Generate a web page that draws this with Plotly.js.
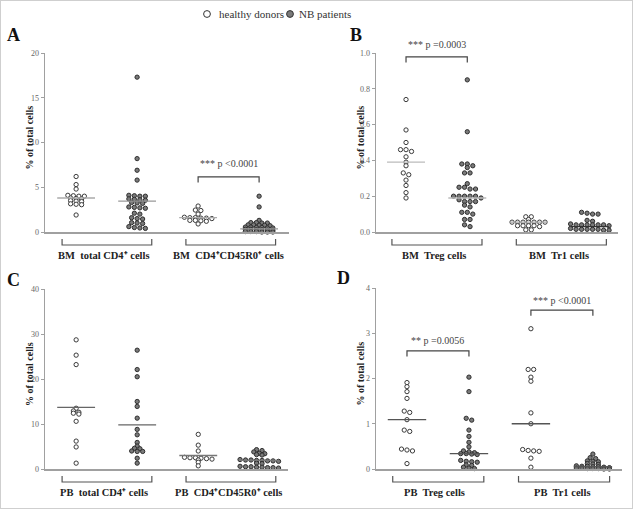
<!DOCTYPE html>
<html><head><meta charset="utf-8">
<script src="https://cdn.plot.ly/plotly-3.0.1.min.js"></script>
<style>html,body{margin:0;padding:0;background:#fff}#chart{width:633px;height:509px}</style>
</head><body><div id="chart"></div>
<script>
// ---------- DATA (% of total cells) ----------
// Panel A – bone marrow
const bmTotalCD4_HD = [6.2, 5.3, 4.8, 4.1, 4.05, 4.0, 4.0, 3.8, 3.75, 3.7, 3.5, 3.45, 3.4, 3.15, 3.1, 3.05, 1.9];
const bmTotalCD4_NB = [17.3, 8.2, 6.9, 5.8, 4.1, 4.05, 4.0, 4.0, 3.7, 3.65, 3.6, 3.55, 3.3, 3.25, 3.2, 2.8, 2.75, 2.7, 2.65, 2.1, 2.0, 1.6, 1.5, 1.45, 1.05, 1.0, 0.95, 0.6, 0.5, 0.45, 0.4];
const bmCD45R0_HD = [2.9, 2.45, 2.4, 2.0, 1.65, 1.6, 1.6, 1.55, 1.55, 1.5, 1.3, 1.3, 1.25, 1.2, 0.9];
const bmCD45R0_NB = [4.0, 2.8, 1.3, 1.05, 1.05, 1.0, 1.0, 0.8, 0.8, 0.75, 0.75, 0.7, 0.55, 0.55, 0.5, 0.5, 0.45, 0.45, 0.3, 0.3, 0.25, 0.25, 0.2, 0.2, 0.05, 0.05, 0.05, 0.0, 0.0, 0.0];
const bmCenterA = [3.8, 3.45, 1.6, 0.35];
// Panel B – bone marrow
const bmTreg_HD = [0.74, 0.57, 0.50, 0.46, 0.46, 0.45, 0.42, 0.39, 0.37, 0.33, 0.32, 0.29, 0.26, 0.22, 0.19];
const bmTreg_NB = [0.85, 0.56, 0.38, 0.38, 0.37, 0.36, 0.33, 0.33, 0.27, 0.25, 0.25, 0.24, 0.24, 0.20, 0.20, 0.20, 0.20, 0.20, 0.19, 0.18, 0.17, 0.17, 0.17, 0.15, 0.14, 0.11, 0.11, 0.10, 0.07, 0.07, 0.04, 0.03];
const bmTr1_HD = [0.085, 0.085, 0.07, 0.055, 0.055, 0.055, 0.055, 0.055, 0.055, 0.055, 0.035, 0.035, 0.035, 0.035, 0.03, 0.012, 0.012];
const bmTr1_NB = [0.11, 0.105, 0.10, 0.10, 0.065, 0.06, 0.045, 0.04, 0.04, 0.04, 0.04, 0.04, 0.04, 0.035, 0.02, 0.015, 0.015, 0.015, 0.015, 0.015, 0.01, 0.01];
const bmCenterB = [0.39, 0.19, 0.055, 0.03];
// Panel C – peripheral blood
const pbTotalCD4_HD = [28.7, 25.3, 23.2, 13.5, 12.9, 12.6, 12.4, 12.2, 10.6, 6.2, 4.9, 1.3];
const pbTotalCD4_NB = [26.4, 22.1, 20.5, 15.0, 13.9, 11.3, 8.8, 7.6, 5.9, 5.1, 4.6, 4.5, 4.0, 3.9, 3.9, 2.4, 1.3];
const pbCD45R0_HD = [7.7, 5.3, 4.0, 2.6, 2.5, 2.5, 2.4, 2.3, 2.2, 2.0, 1.5, 0.7];
const pbCD45R0_NB = [4.3, 4.1, 3.8, 3.5, 3.4, 3.2, 3.1, 2.1, 2.0, 2.0, 1.9, 1.9, 1.8, 1.8, 1.7, 1.3, 1.2, 0.6, 0.5, 0.5, 0.4, 0.4, 0.3, 0.3, 0.2];
const pbCenterC = [13.7, 9.8, 3.0, 1.9];
// Panel D – peripheral blood
const pbTreg_HD = [1.91, 1.82, 1.71, 1.56, 1.28, 1.25, 1.09, 0.86, 0.83, 0.44, 0.42, 0.40, 0.12];
const pbTreg_NB = [2.03, 1.71, 1.12, 1.08, 0.86, 0.72, 0.59, 0.49, 0.40, 0.38, 0.36, 0.34, 0.34, 0.33, 0.32, 0.19, 0.17, 0.16, 0.15, 0.09, 0.08, 0.04, 0.02, 0.01];
const pbTr1_HD = [3.10, 2.20, 2.20, 2.03, 1.94, 1.24, 1.00, 0.43, 0.41, 0.40, 0.39, 0.24, 0.04];
const pbTr1_NB = [0.33, 0.25, 0.23, 0.18, 0.17, 0.16, 0.12, 0.11, 0.10, 0.07, 0.06, 0.06, 0.05, 0.05, 0.04, 0.03, 0.02, 0.02, 0.01, 0.01, 0.01, 0.0, 0.0];
const pbCenterD = [1.09, 0.34, 1.0, 0.05];

const groupLabelsA = ['BM\u00a0 total CD4\u207a cells', 'BM\u00a0 CD4\u207aCD45R0\u207a cells'];
const groupLabelsB = ['BM\u00a0 Treg cells', 'BM\u00a0 Tr1 cells'];
const groupLabelsC = ['PB\u00a0 total CD4\u207a cells', 'PB\u00a0 CD4\u207aCD45R0\u207a cells'];
const groupLabelsD = ['PB\u00a0 Treg cells', 'PB\u00a0 Tr1 cells'];
const legendLabels = ['healthy donors', 'NB patients'];
const yTitle = '% of total cells';

// ---------- LAYOUT CONFIG ----------
const W = 633, H = 509;
const SERIF = 'Liberation Serif, Times New Roman, serif';
const panels = [
  {letter:'A', sfx:'',  px:[45,289], py:[232,53], xr:[0.49,4.49], yr:[0,20], dtick:5, fmt:'',
   series:[bmTotalCD4_HD,bmTotalCD4_NB,bmCD45R0_HD,bmCD45R0_NB], centers:bmCenterA,
   lineColors:['#aaa','#999','#aaa','#999'], groups:groupLabelsA, lpos:[13.5,35],
   sig:[{c0:3,c1:4,y:6.15,ty:7.6,text:'*** p <0.0001'}]},
  {letter:'B', sfx:'2', px:[376,618], py:[232,53], xr:[0.51,4.46], yr:[0,1], dtick:0.2, fmt:'.1f',
   series:[bmTreg_HD,bmTreg_NB,bmTr1_HD,bmTr1_NB], centers:bmCenterB,
   lineColors:['#bbb','#bbb','#aaa','#333'], groups:groupLabelsB, lpos:[356,35],
   sig:[{c0:1,c1:2,y:0.978,ty:1.05,text:'*** p =0.0003'}]},
  {letter:'C', sfx:'3', px:[45,288], py:[469,289], xr:[0.49,4.47], yr:[0,40], dtick:10, fmt:'',
   series:[pbTotalCD4_HD,pbTotalCD4_NB,pbCD45R0_HD,pbCD45R0_NB], centers:pbCenterC,
   lineColors:['#666','#666','#777','#777'], groups:groupLabelsC, lpos:[13,280],
   sig:[]},
  {letter:'D', sfx:'4', px:[376,622], py:[469,288], xr:[0.5,4.47], yr:[0,4], dtick:1, fmt:'',
   series:[pbTreg_HD,pbTreg_NB,pbTr1_HD,pbTr1_NB], centers:pbCenterD,
   lineColors:['#555','#555','#555','#555'], groups:groupLabelsD, lpos:[343,278],
   sig:[{c0:1,c1:2,y:2.61,ty:2.85,text:'** p =0.0056'},{c0:3,c1:4,y:3.51,ty:3.73,text:'*** p <0.0001'}]}
];

// row-binned scatter-dot layout (points within binH px share a centred row)
function rowSwarm(vals, ypu, binH, spacing) {
  const idx = vals.map((v,i)=>i).sort((a,b)=>vals[b]-vals[a]);
  const xs = new Array(vals.length);
  let row = [];
  const flush = () => { row.forEach((i,k) => { xs[i] = (k - (row.length-1)/2) * spacing; }); row = []; };
  for (const i of idx) {
    if (row.length && (vals[row[0]] - vals[i]) * ypu > binH + 1e-9) flush();
    row.push(i);
  }
  flush();
  return xs;
}

const traces = [], shapes = [], annotations = [];
const layout = {
  width: W, height: H, margin:{l:0,r:0,t:0,b:0},
  paper_bgcolor:'#fff', plot_bgcolor:'rgba(0,0,0,0)', showlegend:false,
  font:{family:SERIF, color:'#333'}
};

panels.forEach(p => {
  const xpu = (p.px[1]-p.px[0])/(p.xr[1]-p.xr[0]);
  const ypu = (p.py[0]-p.py[1])/(p.yr[1]-p.yr[0]);
  const toPX = xv => (p.px[0] + (xv - p.xr[0])*xpu)/W;
  const toPY = yv => 1 - (p.py[0] - (yv - p.yr[0])*ypu)/H;
  const yAtPx = off => 1 - (p.py[0] + off)/H; // off px below axis

  layout['xaxis'+p.sfx] = {domain:[p.px[0]/W, p.px[1]/W], range:p.xr, anchor:'y'+p.sfx,
    showline:true, linecolor:'#a0a0a0', linewidth:1.5, showgrid:false, zeroline:false,
    showticklabels:false, ticks:'', fixedrange:true};
  layout['yaxis'+p.sfx] = {domain:[1-p.py[0]/H, 1-p.py[1]/H], range:p.yr, anchor:'x'+p.sfx,
    showline:true, linecolor:'#a0a0a0', linewidth:1.5, showgrid:false, zeroline:false,
    ticks:'outside', ticklen:3, tickcolor:'#a0a0a0', tickwidth:1, dtick:p.dtick, tick0:0,
    tickformat:p.fmt, tickfont:{family:SERIF, size:8, color:'#666'}, fixedrange:true};

  p.series.forEach((vals, k) => {
    const col = k + 1;
    const offs = rowSwarm(vals, ypu, 2.0, 5.5);
    const healthy = (k % 2 === 0);
    traces.push({type:'scatter', mode:'markers', xaxis:'x'+p.sfx, yaxis:'y'+p.sfx,
      x: offs.map(o => col + o/xpu), y: vals, cliponaxis:false, hoverinfo:'y',
      marker:{size:4.3, color: healthy ? '#ffffff' : '#7a7a7a',
              line:{color: healthy ? '#3a3a3a' : '#2e2e2e', width:1}}});
  });
  p.centers.forEach((m, k) => {
    const col = k + 1;
    traces.push({type:'scatter', mode:'lines', xaxis:'x'+p.sfx, yaxis:'y'+p.sfx,
      x:[col-0.31, col+0.31], y:[m, m], hoverinfo:'skip', cliponaxis:false,
      line:{color:p.lineColors[k], width:1.3}});
  });

  // group brackets below x axis
  [[0.77,2.24,1.45],[2.8,4.27,3.5]].forEach((g, gi) => {
    const x0 = toPX(g[0]), x1 = toPX(g[1]);
    const yl = yAtPx(13), yt = yAtPx(7);
    shapes.push({type:'path', xref:'paper', yref:'paper',
      path:`M${x0},${yt} L${x0},${yl} L${x1},${yl} L${x1},${yt}`,
      line:{color:'#555', width:1.2}});
    annotations.push({xref:'paper', yref:'paper', x:toPX(g[2]), y:yAtPx(23), text:p.groups[gi],
      showarrow:false, xanchor:'center', yanchor:'middle',
      font:{family:SERIF, size:10.5, color:'#222', weight:'bold'}});
  });

  // significance brackets
  p.sig.forEach(s => {
    const x0 = toPX(s.c0), x1 = toPX(s.c1), yl = toPY(s.y), yg = yl - 5.5/H;
    shapes.push({type:'path', xref:'paper', yref:'paper',
      path:`M${x0},${yg} L${x0},${yl} L${x1},${yl} L${x1},${yg}`,
      line:{color:'#444', width:1.2}});
    annotations.push({xref:'paper', yref:'paper', x:(x0+x1)/2, y:toPY(s.ty), text:s.text,
      showarrow:false, xanchor:'center', yanchor:'middle', font:{family:SERIF, size:10, color:'#444'}});
  });

  // y axis title
  annotations.push({xref:'paper', yref:'paper', x:(p.px[0]-16)/W, y:1-((p.py[0]+p.py[1])/2 - 5)/H,
    text:yTitle, textangle:-90, showarrow:false, xanchor:'center', yanchor:'middle',
    font:{family:SERIF, size:10, color:'#222', weight:'bold'}});
  // panel letter
  annotations.push({xref:'paper', yref:'paper', x:p.lpos[0]/W, y:1-p.lpos[1]/H, text:p.letter,
    showarrow:false, xanchor:'center', yanchor:'middle', font:{family:SERIF, size:18, color:'#111', weight:'bold'}});
});

// legend (top)
const legCircle = (cx, fill) => ({type:'circle', xref:'paper', yref:'paper',
  x0:(cx-3.4)/W, x1:(cx+3.4)/W, y0:1-(14+3.4)/H, y1:1-(14-3.4)/H,
  fillcolor:fill, line:{color:'#333', width:1}});
shapes.push(legCircle(207, '#fff'), legCircle(290, '#7a7a7a'));
annotations.push({xref:'paper', yref:'paper', x:217/W, y:1-14/H, text:legendLabels[0], showarrow:false,
  xanchor:'left', yanchor:'middle', font:{family:SERIF, size:11, color:'#333'}});
annotations.push({xref:'paper', yref:'paper', x:297/W, y:1-14/H, text:legendLabels[1], showarrow:false,
  xanchor:'left', yanchor:'middle', font:{family:SERIF, size:11, color:'#333'}});

// outer frame
shapes.push({type:'rect', xref:'paper', yref:'paper', x0:0, x1:1, y0:0, y1:1, line:{color:'#cfcfcf', width:2}});

layout.shapes = shapes;
layout.annotations = annotations;
Plotly.newPlot('chart', traces, layout, {staticPlot:true, displayModeBar:false});
</script>
</body></html>
